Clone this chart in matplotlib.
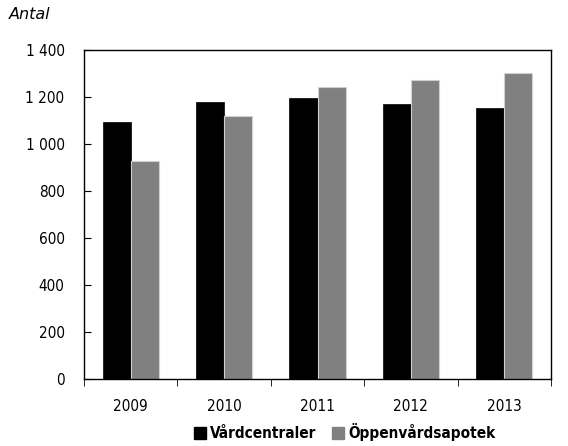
import matplotlib
matplotlib.use("Agg")
import matplotlib.pyplot as plt
import numpy as np
from matplotlib.patches import Patch

years = ["2009", "2010", "2011", "2012", "2013"]
vardcentraler = [1094, 1179, 1196, 1172, 1155]
oppenvardsapotek = [929, 1120, 1241, 1274, 1302]
yticks = [0, 200, 400, 600, 800, 1000, 1200, 1400]
ytick_labels = ["0", "200", "400", "600", "800", "1 000", "1 200", "1 400"]

plt.rcParams["font.family"] = ["DejaVu Sans"]
plt.rcParams["font.stretch"] = "condensed"

fig = plt.figure(figsize=(5.68, 4.46), dpi=100)
ax = fig.add_axes([0.148, 0.150, 0.822, 0.738])

x = np.arange(len(years))
w = 0.3
ax.bar(x - w / 2, vardcentraler, w, color="black", edgecolor="black", linewidth=0.5)
ax.bar(x + w / 2, oppenvardsapotek, w, color="#808080", edgecolor="#d0d0d0", linewidth=0.8)

ax.set_xlim(-0.5, len(years) - 0.5)
ax.set_ylim(0, 1400)
ax.set_yticks(yticks)
ax.set_yticklabels(ytick_labels, fontsize=11)
ax.set_xticks(x)
ax.set_xticklabels(years, fontsize=11)
ax.tick_params(axis="x", length=0, pad=14)
ax.set_xticks(np.arange(-0.5, len(years)), minor=True)
ax.tick_params(axis="x", which="minor", length=5, direction="out")
ax.tick_params(axis="y", length=5, direction="in", pad=14)

for s in ax.spines.values():
    s.set_linewidth(1.0)

fig.text(0.015, 0.958, "Antal", fontsize=11.5, style="italic", stretch="normal")

handles = [Patch(color="black"), Patch(color="#808080")]
fig.legend(handles, ["Vårdcentraler", "Öppenvårdsapotek"], loc="center",
           bbox_to_anchor=(0.607, 0.031), ncol=2, frameon=False,
           prop={"weight": "bold", "size": 11, "stretch": "condensed"},
           handlelength=0.8, handleheight=0.8, handletextpad=0.3,
           columnspacing=1.0)

fig.savefig("out.png", dpi=100)
